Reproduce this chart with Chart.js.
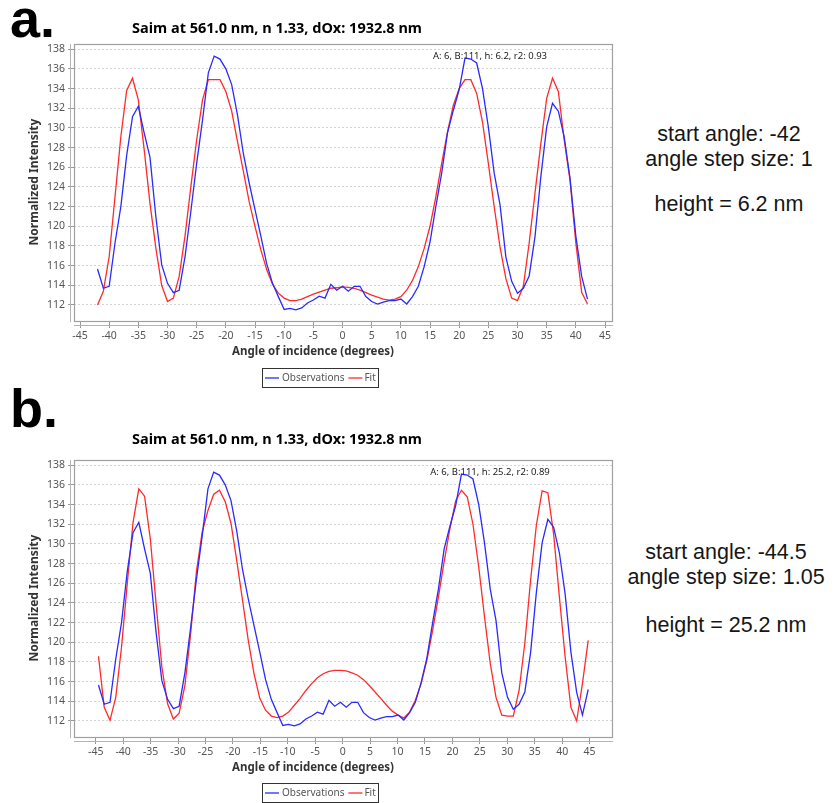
<!DOCTYPE html>
<html>
<head>
<meta charset="utf-8">
<script src="https://cdn.jsdelivr.net/npm/chart.js@4.4.1/dist/chart.umd.min.js"></script>
<style>
  body { margin: 0; background: #fff; width: 835px; height: 803px; position: relative; overflow: hidden; }
  canvas { position: absolute; left: 0; }
  .tag { position: absolute; font: bold 54px "Liberation Sans", Arial, sans-serif; color: #000; line-height: 54px; }
  .side { position: absolute; width: 230px; text-align: center; font: 21.5px "Liberation Sans", Arial, sans-serif; color: #161616; line-height: 25px; }
</style>
</head>
<body>
<div class="tag" style="left:10px; top:-9px;">a.</div>
<div class="tag" style="left:10px; top:381px;">b.</div>
<div class="side" style="left:614px; top:122px;">start angle: -42<br>angle step size: 1</div>
<div class="side" style="left:614px; top:192px;">height = 6.2 nm</div>
<div class="side" style="left:611px; top:540px;">start angle: -44.5<br>angle step size: 1.05</div>
<div class="side" style="left:611px; top:613px;">height = 25.2 nm</div>
<canvas id="chartA" width="620" height="400" style="top:0px"></canvas>
<canvas id="chartB" width="620" height="403" style="top:400px"></canvas>
<script>
// measured intensities, one per angle step (panel b shows one extra point at the end)
let observations = [115.66, 113.7, 113.9, 118.3, 122.0, 127.2, 131.15, 132.2, 129.5, 127.0,
    121.0, 116.1, 114.2, 113.25, 113.5, 116.9, 121.5, 126.4, 130.8, 135.6,
    137.3, 137.0, 136.0, 134.4, 131.3, 127.4, 124.4, 121.7, 119.0, 116.2,
    114.2, 112.85, 111.55, 111.65, 111.5, 111.7, 112.2, 112.5, 112.9, 112.7,
    114.1, 113.5, 113.9, 113.4, 113.9, 113.9, 112.85, 112.35, 112.1, 112.3,
    112.45, 112.45, 112.6, 112.1, 112.85, 113.9, 115.9, 118.4, 122.0, 125.4,
    129.5, 131.8, 133.9, 137.1, 137.0, 136.6, 134.0, 130.1, 125.4, 122.2,
    116.9, 114.4, 113.2, 113.7, 114.95, 118.95, 125.05, 130.1, 132.5, 131.7,
    129.1, 124.9, 119.0, 114.9, 112.6];
let observationsB = observations.concat([115.2]);

let fitA = [112.0, 113.4, 116.9, 123.0, 129.1, 133.8, 135.05, 132.85, 127.8, 122.3,
    117.8, 114.0, 112.35, 112.7, 114.9, 119.0, 124.0, 128.8, 132.85, 134.9,
    134.9, 134.9, 133.7, 131.7, 128.6, 125.6, 122.5, 120.0, 117.6, 115.6,
    114.1, 113.2, 112.7, 112.45, 112.45, 112.6, 112.85, 113.1, 113.3, 113.5,
    113.7, 113.75, 113.85, 113.8, 113.7, 113.5, 113.25, 113.0, 112.8, 112.6,
    112.5, 112.6, 112.85, 113.5, 114.5, 115.9, 117.75, 120.0, 123.0, 126.4,
    129.6, 132.3, 134.0, 134.9, 134.9, 133.5, 130.6, 126.4, 122.0, 117.9,
    114.7, 112.7, 112.45, 113.9, 118.3, 123.4, 128.4, 133.0, 135.05, 133.7,
    128.8, 124.7, 118.3, 113.3, 112.1];

let fitB = [118.58, 113.4, 112.07, 114.4, 119.5, 126.0, 132.2, 135.6, 134.85, 130.5,
    123.9, 117.5, 113.75, 112.2, 112.8, 115.6, 120.9, 127.15, 131.2, 133.4,
    135.05, 135.45, 134.3, 132.1, 128.3, 124.3, 120.2, 116.8, 114.3, 113.1,
    112.5, 112.35, 112.5, 112.9, 113.6, 114.3, 115.1, 115.8, 116.4, 116.8,
    117.05, 117.15, 117.15, 117.1, 116.9, 116.65, 116.2, 115.6, 114.95, 114.3,
    113.6, 113.0, 112.6, 112.3, 112.9, 114.1, 115.8, 118.2, 121.2, 124.6,
    128.2, 131.55, 134.4, 135.45, 134.8, 132.0, 127.65, 122.6, 117.85, 114.4,
    112.6, 112.5, 112.5, 115.1, 119.9, 126.3, 131.9, 135.4, 135.2, 131.0,
    124.6, 118.5, 113.4, 112.0, 115.8, 120.2];

let startA = -42, stepA = 1;
let startB = -44.5, stepB = 1.05;

let xTicks = [-45, -40, -35, -30, -25, -20, -15, -10, -5, 0, 5, 10, 15, 20, 25, 30, 35, 40, 45];
let yTicks = [112, 114, 116, 118, 120, 122, 124, 126, 128, 130, 132, 134, 136, 138];

let titleText = "Saim at 561.0 nm, n 1.33, dOx: 1932.8 nm";
let noteA = "A: 6, B:111, h: 6.2, r2: 0.93";
let noteB = "A: 6, B:111, h: 25.2, r2: 0.89";

let tickFont = '"Noto Sans", sans-serif';

function toPoints(values, start, step) {
    return values.map((v, i) => ({ x: start + i * step, y: v }));
}

let decor = {
    id: "decor",
    afterDraw(chart, args, o) {
        let ctx = chart.ctx;
        let a = chart.chartArea;
        ctx.save();
        // plot outline and the offset axis lines
        ctx.strokeStyle = "#a0a0a0";
        ctx.lineWidth = 1.2;
        ctx.strokeRect(a.left + 0.5, a.top + 0.5, a.right - a.left - 1, a.bottom - a.top - 1);
        ctx.strokeStyle = "#b4b4b4";
        ctx.lineWidth = 1;
        ctx.beginPath();
        ctx.moveTo(a.left - 3.5, a.top);
        ctx.lineTo(a.left - 3.5, a.bottom);
        ctx.moveTo(a.left, a.bottom + 3.5);
        ctx.lineTo(a.right, a.bottom + 3.5);
        ctx.stroke();

        ctx.fillStyle = "#000";
        ctx.textAlign = "center";
        ctx.textBaseline = "alphabetic";
        ctx.font = 'bold 14.5px "Noto Sans", sans-serif';
        ctx.fillText(titleText, o.titleX, o.titleY);

        ctx.fillStyle = "#333";
        ctx.font = 'bold 11.5px "Noto Sans", sans-serif';
        ctx.textBaseline = "middle";
        ctx.fillText("Angle of incidence (degrees)", o.xTitleX, o.xTitleY);
        ctx.save();
        ctx.translate(o.yTitleX, o.yTitleY);
        ctx.rotate(-Math.PI / 2);
        ctx.font = 'bold 12px "Noto Sans", sans-serif';
        ctx.fillText("Normalized Intensity", 0, 0);
        ctx.restore();

        ctx.font = '9.5px "Noto Sans", sans-serif';
        ctx.fillStyle = "#222";
        ctx.fillText(o.note, o.noteX, o.noteY);

        // legend box
        let lx = o.legendX, ly = o.legendY;
        ctx.strokeStyle = "#333";
        ctx.lineWidth = 1;
        ctx.strokeRect(lx + 0.5, ly + 0.5, 116, 19);
        let cy = ly + 10;
        ctx.font = '10px "Noto Sans", sans-serif';
        ctx.fillStyle = "#555";
        ctx.textAlign = "left";
        ctx.lineWidth = 1.3;
        ctx.strokeStyle = "#2a2aff";
        ctx.beginPath();
        ctx.moveTo(lx + 3, cy);
        ctx.lineTo(lx + 17, cy);
        ctx.stroke();
        ctx.fillText("Observations", lx + 20, cy);
        let rx = lx + 20 + ctx.measureText("Observations").width + 4;
        ctx.strokeStyle = "#ff2a2a";
        ctx.beginPath();
        ctx.moveTo(rx, cy);
        ctx.lineTo(rx + 14, cy);
        ctx.stroke();
        ctx.fillText("Fit", rx + 16, cy);
        ctx.restore();
    }
};

function makeChart(id, obs, fit, start, step, xMin, xMax, canvasH, top, bottom, pos) {
    let context = document.getElementById(id).getContext("2d");
    return new Chart(context, {
        type: "line",
        data: {
            datasets: [
                {
                    label: "Observations",
                    data: toPoints(obs, start, step),
                    borderColor: "#2a2aff",
                    borderWidth: 1.3,
                    pointRadius: 0,
                    tension: 0
                },
                {
                    label: "Fit",
                    data: toPoints(fit, start, step),
                    borderColor: "#ff2a2a",
                    borderWidth: 1.3,
                    pointRadius: 0,
                    tension: 0
                }
            ]
        },
        options: {
            responsive: false,
            animation: false,
            layout: { padding: { top: top, right: 7, left: 0, bottom: 0 } },
            plugins: {
                legend: { display: false },
                title: { display: false },
                tooltip: { enabled: false },
                decor: pos
            },
            scales: {
                x: {
                    type: "linear",
                    min: xMin,
                    max: xMax,
                    afterBuildTicks: s => { s.ticks = xTicks.map(v => ({ value: v })); },
                    afterFit: s => { s.height = canvasH - bottom; },
                    border: { display: false },
                    grid: { drawOnChartArea: false, tickLength: 6, tickColor: "#999" },
                    ticks: { color: "#555", font: { family: tickFont, size: 10.5 }, padding: 2, maxRotation: 0 }
                },
                y: {
                    min: 110.27,
                    max: 138.53,
                    afterBuildTicks: s => { s.ticks = yTicks.map(v => ({ value: v })); },
                    afterFit: s => { s.width = 74; },
                    border: { display: false, dash: [2, 2] },
                    grid: { color: "#d4d4d4", tickLength: 6, tickColor: "#999" },
                    ticks: { color: "#555", font: { family: tickFont, size: 10.5 }, padding: 3 }
                }
            }
        },
        plugins: [decor]
    });
}

let chartA = makeChart("chartA", observations, fitA, startA, stepA, -46.03, 46.37, 400, 44, 322, {
    titleX: 277, titleY: 33, xTitleX: 313, xTitleY: 352, yTitleX: 35, yTitleY: 182,
    note: noteA, noteX: 490, noteY: 56, legendX: 262, legendY: 368
});
let chartB = makeChart("chartB", observationsB, fitB, startB, stepB, -48.96, 49.27, 403, 60, 338, {
    titleX: 277, titleY: 44, xTitleX: 313, xTitleY: 368, yTitleX: 35, yTitleY: 198,
    note: noteB, noteX: 490, noteY: 72, legendX: 262, legendY: 383
});
</script>
</body>
</html>
